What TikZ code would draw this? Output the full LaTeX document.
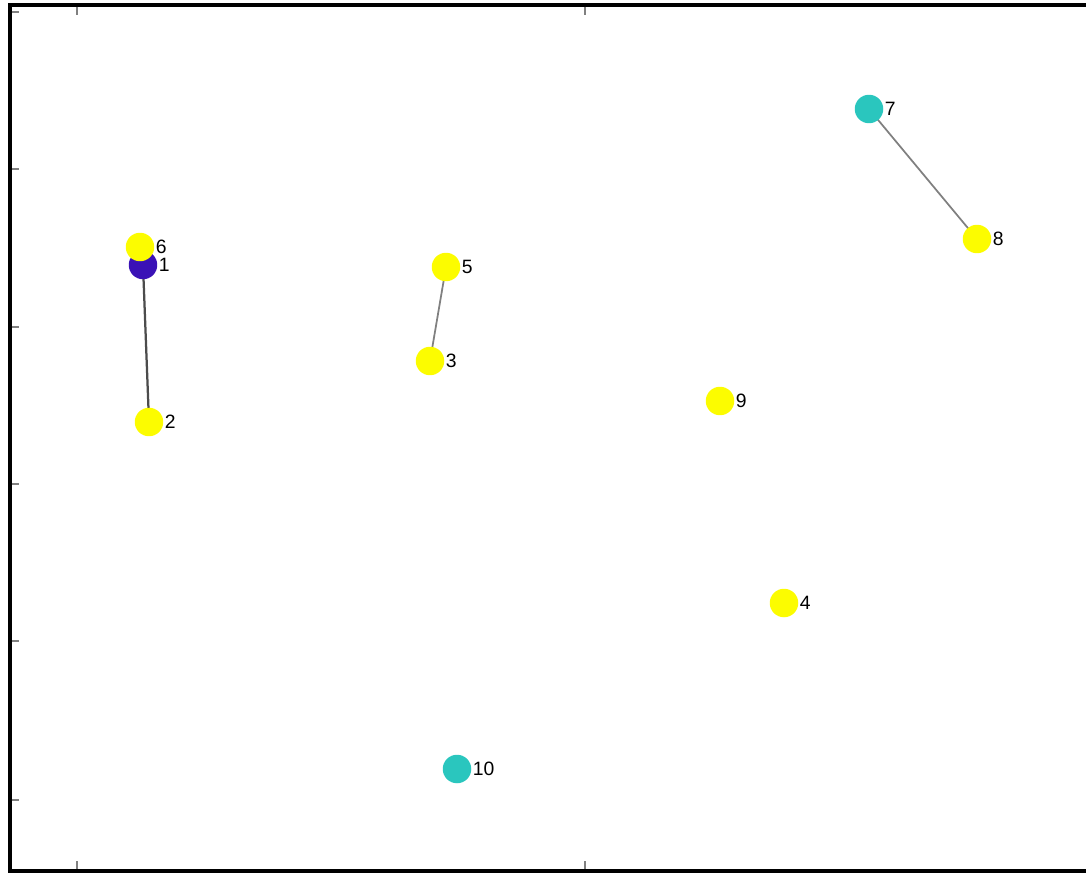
\documentclass[tikz,border=0pt]{standalone}
\usepackage{fontspec}
\newfontfamily\lblfont{Liberation Sans}
\usetikzlibrary{backgrounds}
\definecolor{nodeyellow}{HTML}{FCFC00}
\definecolor{nodepurple}{HTML}{3A12B6}
\definecolor{nodeteal}{HTML}{2AC6BE}
\tikzset{
  vtx/.style={circle,draw=none,minimum size=0.57cm,inner sep=0pt},
  yel/.style={vtx,fill=nodeyellow},
  pur/.style={vtx,fill=nodepurple},
  tea/.style={vtx,fill=nodeteal},
  lbl/.style={font=\lblfont\fontsize{11}{13}\selectfont,inner sep=0.5pt},
  every label/.style={lbl},
  label distance=0cm,
  edge/.style={gray,line width=0.035cm},
}

\begin{document}
\begin{tikzpicture}[x=0.02cm,y=-0.02cm]
    \useasboundingbox (0,0) rectangle (1086,875);
    % 坐标框
    \draw[line width=0.08cm] (1090,5) -- (10,5) -- (10,871) -- (1090,871);
    % 刻度
    \foreach \ty in {12,169,327,484,641,800}
      \draw[gray,line width=0.025cm] (12,\ty) -- ++(7,0);
    \foreach \tx in {77,585} {
      \draw[gray,line width=0.025cm] (\tx,7) -- ++(0,8);
      \draw[gray,line width=0.025cm] (\tx,869) -- ++(0,-8);
    }
    % 顶点
    \node[pur,label=right:1] (n1) at (143,265) {};
    \node[yel,label=right:6] (n6) at (140,247) {};
    \node[yel,label=right:2] (n2) at (149,422) {};
    \node[yel,label=right:5] (n5) at (446,267) {};
    \node[yel,label=right:3] (n3) at (430,361) {};
    \node[tea,label=right:7] (n7) at (869,109) {};
    \node[yel,label=right:8] (n8) at (977,239) {};
    \node[yel,label=right:9] (n9) at (720,401) {};
    \node[yel,label=right:4] (n4) at (784,603) {};
    \node[tea,label=right:10] (n10) at (457,769) {};
    % 边
    \begin{pgfonlayer}{background}
      \draw[edge,black!70,line width=0.045cm] (n1.center) -- (n2.center);
      \draw[edge] (n5.center) -- (n3.center);
      \draw[edge] (n7.center) -- (n8.center);
    \end{pgfonlayer}
\end{tikzpicture}
\end{document}
